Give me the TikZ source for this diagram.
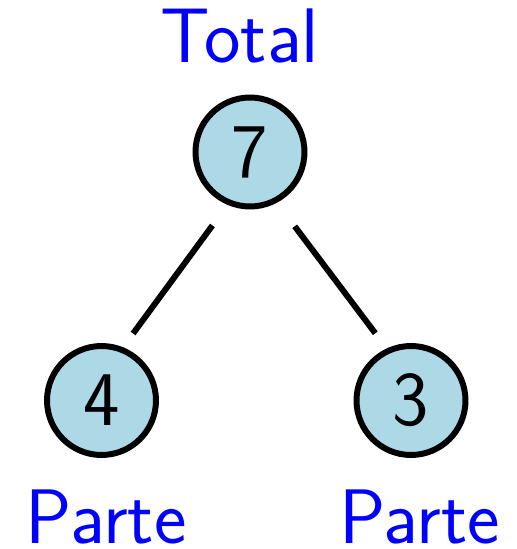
\documentclass[tikz,border=0pt]{standalone}
\usepackage{tikz}
\usetikzlibrary{positioning}

\definecolor{numfill}{RGB}{173,216,230}
\tikzset{
	num/.style={circle, draw=black, fill=numfill, line width=3.4pt, minimum size=2.18cm, inner sep=0pt, font=\sffamily\fontsize{44}{46}\selectfont},
	lbl/.style={text=blue, anchor=base, inner sep=0pt, font=\sffamily\fontsize{44}{46}\selectfont},
	link/.style={line width=3.4pt},
}

\begin{document}
\begin{tikzpicture}[x=0.02cm, y=0.02cm]
	\useasboundingbox (0,0) rectangle (517,549);
	\node [num] (t) at (250,397) {7};
	\node [num] (l) at (101.5,148.5) {4};
	\node [num] (r) at (411,148.5) {3};
	%
	\node [lbl] (tl) at (240,486) {Total};
	\node [lbl] (ll) at (106,6) {Parte};
	\node [lbl] (rl) at (419.5,6) {Parte};
	%
	\draw [link, shorten <=0.51cm, shorten >=0.34cm] (t.247) -- (l.68);
	\draw [link, shorten <=0.59cm, shorten >=0.38cm] (t.298) -- (r.115);
\end{tikzpicture}
\end{document}
